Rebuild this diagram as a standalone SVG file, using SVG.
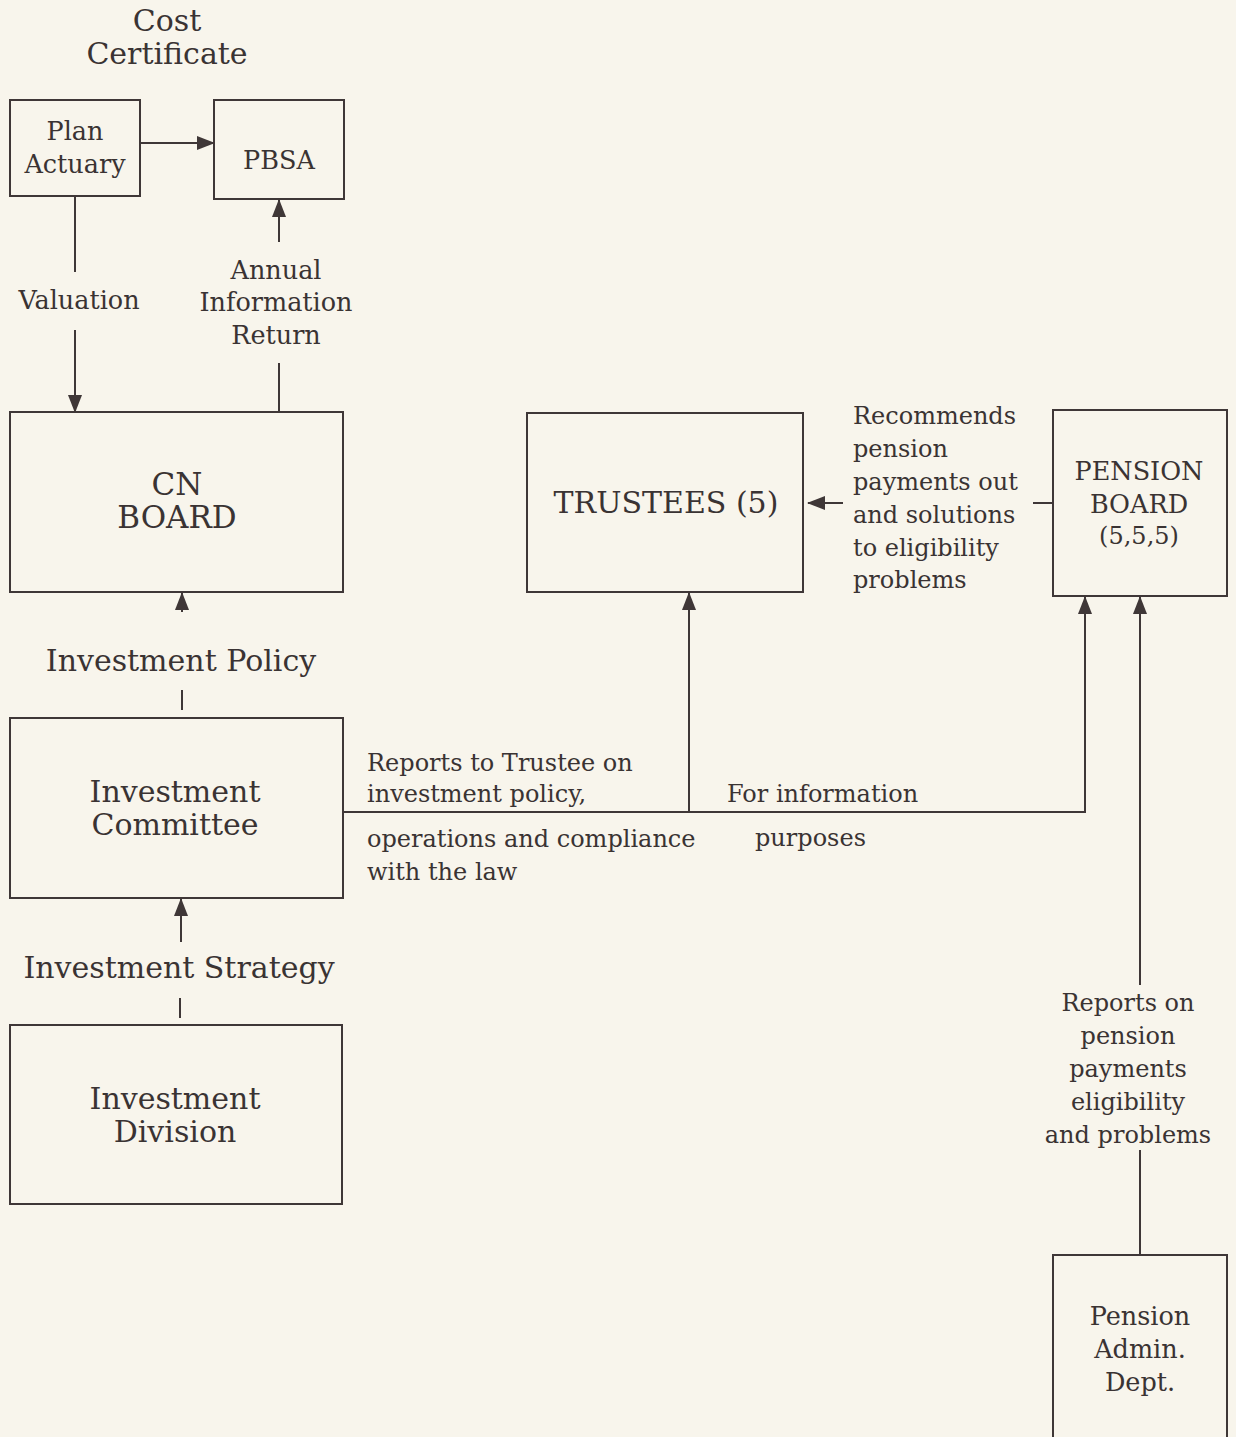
<svg xmlns="http://www.w3.org/2000/svg" width="1236" height="1437" viewBox="0 0 1236 1437">
<style>
.bg{fill:#f8f5ec}
.box{fill:none;stroke:#3f3737;stroke-width:2}
.ln{fill:none;stroke:#3f3737;stroke-width:2}
text{font-family:"DejaVu Serif","Liberation Serif",serif;fill:#3a3333}
.c{text-anchor:middle}
.l{font-size:24px}
.m{font-size:25.5px}
.b{font-size:30px}
.xb{font-size:31px}
</style>
<defs>
<marker id="ah" viewBox="0 0 18 14" refX="17" refY="7" markerWidth="18" markerHeight="14" markerUnits="userSpaceOnUse" orient="auto">
<path d="M0,0 L18,7 L0,14 Z" fill="#3f3737"/>
</marker>
</defs>
<rect class="bg" x="0" y="0" width="1236" height="1437"/>

<g id="cost-certificate">
<text class="c b" x="167" y="31">Cost</text>
<text class="c b" x="167" y="64">Certificate</text>
</g>

<g id="plan-actuary">
<rect class="box" x="10" y="100" width="130" height="96"/>
<text class="c m" x="75" y="140">Plan</text>
<text class="c m" x="75" y="173">Actuary</text>
</g>

<g id="pbsa">
<rect class="box" x="214" y="100" width="130" height="99"/>
<text class="c m" x="279" y="169">PBSA</text>
</g>

<g id="cn-board">
<rect class="box" x="10" y="412" width="333" height="180"/>
<text class="c xb" x="177" y="495">CN</text>
<text class="c xb" x="177" y="528">BOARD</text>
</g>

<g id="trustees">
<rect class="box" x="527" y="413" width="276" height="179"/>
<text class="c b" x="666" y="513">TRUSTEES (5)</text>
</g>

<g id="pension-board">
<rect class="box" x="1053" y="410" width="174" height="186"/>
<text class="c m" x="1139" y="480">PENSION</text>
<text class="c m" x="1139" y="513">BOARD</text>
<text class="c l" x="1139" y="544">(5,5,5)</text>
</g>

<g id="investment-committee">
<rect class="box" x="10" y="718" width="333" height="180"/>
<text class="c b" x="175" y="802">Investment</text>
<text class="c b" x="175" y="835">Committee</text>
</g>

<g id="investment-division">
<rect class="box" x="10" y="1025" width="332" height="179"/>
<text class="c b" x="175" y="1109">Investment</text>
<text class="c b" x="175" y="1142">Division</text>
</g>

<g id="pension-admin-dept">
<rect class="box" x="1053" y="1255" width="174" height="190"/>
<text class="c m" x="1140" y="1325">Pension</text>
<text class="c m" x="1140" y="1358">Admin.</text>
<text class="c m" x="1140" y="1391">Dept.</text>
</g>

<g id="connectors">
<line class="ln" x1="140" y1="143" x2="214" y2="143" marker-end="url(#ah)"/>
<line class="ln" x1="279" y1="242" x2="279" y2="200" marker-end="url(#ah)"/>
<line class="ln" x1="279" y1="363" x2="279" y2="412"/>
<line class="ln" x1="75" y1="196" x2="75" y2="272"/>
<line class="ln" x1="75" y1="330" x2="75" y2="412" marker-end="url(#ah)"/>
<line class="ln" x1="182" y1="612" x2="182" y2="593" marker-end="url(#ah)"/>
<line class="ln" x1="182" y1="690" x2="182" y2="710"/>
<line class="ln" x1="181" y1="942" x2="181" y2="899" marker-end="url(#ah)"/>
<line class="ln" x1="180" y1="998" x2="180" y2="1018"/>
<polyline class="ln" points="343,812 1085,812 1085,597" marker-end="url(#ah)"/>
<line class="ln" x1="689" y1="812" x2="689" y2="593" marker-end="url(#ah)"/>
<line class="ln" x1="843" y1="503" x2="808" y2="503" marker-end="url(#ah)"/>
<line class="ln" x1="1033" y1="503" x2="1053" y2="503"/>
<line class="ln" x1="1140" y1="985" x2="1140" y2="597" marker-end="url(#ah)"/>
<line class="ln" x1="1140" y1="1150" x2="1140" y2="1255"/>
</g>

<g id="labels">
<text class="c m" x="79" y="309">Valuation</text>
<text class="c m" x="276" y="279">Annual</text>
<text class="c m" x="276" y="311">Information</text>
<text class="c m" x="276" y="344">Return</text>
<text class="l" x="853" y="424">Recommends</text>
<text class="l" x="853" y="457">pension</text>
<text class="l" x="853" y="490">payments out</text>
<text class="l" x="853" y="523">and solutions</text>
<text class="l" x="853" y="556">to eligibility</text>
<text class="l" x="853" y="588">problems</text>
<text class="c b" x="181" y="671">Investment Policy</text>
<text class="c b" x="179" y="978">Investment Strategy</text>
<text class="l" x="367" y="771">Reports to Trustee on</text>
<text class="l" x="367" y="802">investment policy,</text>
<text class="l" x="367" y="847">operations and compliance</text>
<text class="l" x="367" y="880">with the law</text>
<text class="l" x="727" y="802">For information</text>
<text class="l" x="755" y="846">purposes</text>
<text class="c l" x="1128" y="1011">Reports on</text>
<text class="c l" x="1128" y="1044">pension</text>
<text class="c l" x="1128" y="1077">payments</text>
<text class="c l" x="1128" y="1110">eligibility</text>
<text class="c l" x="1128" y="1143">and problems</text>
</g>
</svg>
